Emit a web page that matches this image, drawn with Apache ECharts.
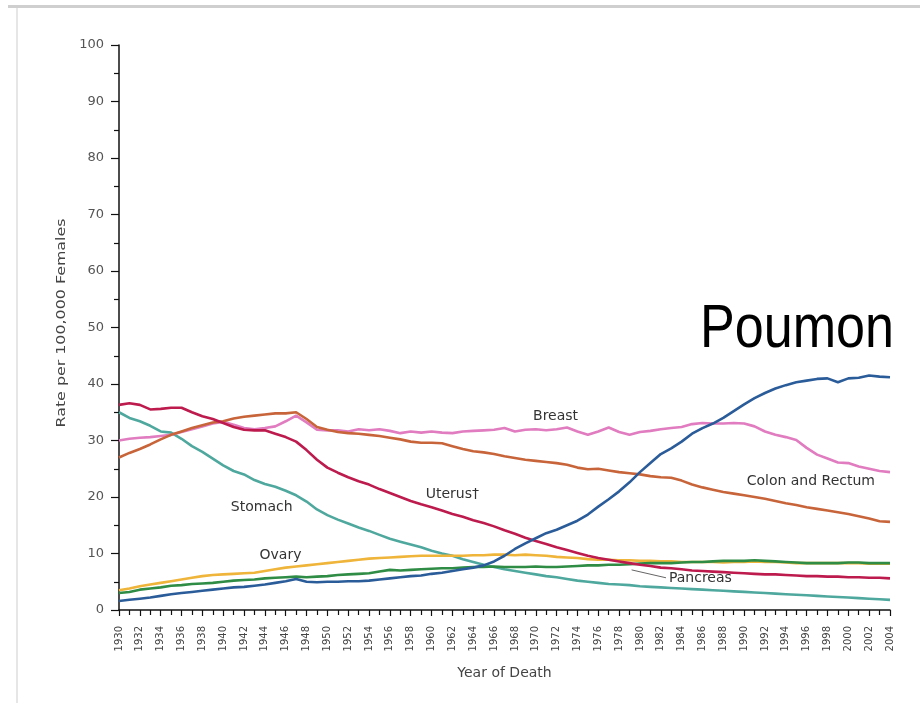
<!DOCTYPE html>
<html>
<head>
<meta charset="utf-8">
<script src="https://cdn.jsdelivr.net/npm/echarts@6/dist/echarts.min.js"></script>
<style>html,body{margin:0;padding:0;background:#fff;}#c{width:920px;height:703px;}</style>
</head>
<body>
<div id="c"></div>
<script>
const startYear = 1930;
const lung = [1.6,1.8,2.0,2.2,2.5,2.8,3.0,3.2,3.4,3.6,3.8,4.0,4.1,4.3,4.5,4.8,5.1,5.5,5.0,4.9,5.0,5.0,5.1,5.1,5.2,5.4,5.6,5.8,6.0,6.1,6.4,6.6,6.9,7.2,7.5,7.9,8.6,9.6,10.8,11.8,12.7,13.6,14.2,15.0,15.8,16.9,18.3,19.6,21.0,22.6,24.4,26.0,27.6,28.6,29.8,31.2,32.2,33.0,34.0,35.2,36.4,37.5,38.4,39.2,39.8,40.3,40.6,40.9,41.0,40.3,41.0,41.1,41.5,41.3,41.2];
const breast = [30.0,30.3,30.5,30.6,30.8,31.0,31.5,32.0,32.5,33.0,33.3,32.8,32.2,32.0,32.2,32.5,33.4,34.4,33.2,31.9,31.8,31.8,31.6,32.0,31.8,32.0,31.7,31.3,31.6,31.4,31.6,31.4,31.3,31.6,31.7,31.8,31.9,32.2,31.6,31.9,32.0,31.8,32.0,32.3,31.6,31.0,31.6,32.3,31.5,31.0,31.5,31.7,32.0,32.2,32.4,32.9,33.1,33.0,33.0,33.1,33.0,32.5,31.6,31.0,30.6,30.1,28.7,27.5,26.8,26.1,26.0,25.4,25.0,24.6,24.4];
const colonRectum = [27.0,27.8,28.5,29.3,30.2,31.0,31.6,32.2,32.7,33.2,33.4,33.9,34.2,34.4,34.6,34.8,34.8,35.0,33.8,32.4,31.9,31.5,31.3,31.2,31.0,30.8,30.5,30.2,29.8,29.6,29.6,29.5,29.0,28.5,28.1,27.9,27.6,27.2,26.9,26.6,26.4,26.2,26.0,25.7,25.2,24.9,25.0,24.7,24.4,24.2,24.0,23.7,23.5,23.4,22.9,22.2,21.7,21.3,20.9,20.6,20.3,20.0,19.7,19.3,18.9,18.6,18.2,17.9,17.6,17.3,17.0,16.6,16.2,15.7,15.6];
const uterus = [36.3,36.6,36.3,35.5,35.6,35.8,35.8,35.0,34.3,33.8,33.1,32.4,31.9,31.8,31.8,31.2,30.6,29.8,28.3,26.6,25.2,24.3,23.5,22.8,22.2,21.4,20.7,20.0,19.3,18.7,18.2,17.6,17.0,16.5,15.9,15.4,14.8,14.1,13.5,12.8,12.2,11.7,11.1,10.6,10.1,9.6,9.2,8.9,8.6,8.3,8.0,7.8,7.5,7.4,7.2,7.0,6.9,6.8,6.7,6.6,6.5,6.4,6.3,6.3,6.2,6.1,6.0,6.0,5.9,5.9,5.8,5.8,5.7,5.7,5.6];
const stomach = [35.0,34.0,33.4,32.6,31.6,31.4,30.3,29.0,28.0,26.8,25.6,24.6,24.0,23.0,22.3,21.8,21.1,20.3,19.2,17.8,16.8,16.0,15.3,14.6,14.0,13.3,12.6,12.1,11.6,11.1,10.5,10.0,9.6,9.0,8.5,8.0,7.6,7.2,6.9,6.6,6.3,6.0,5.8,5.5,5.2,5.0,4.8,4.6,4.5,4.4,4.2,4.1,4.0,3.9,3.8,3.7,3.6,3.5,3.4,3.3,3.2,3.1,3.0,2.9,2.8,2.7,2.6,2.5,2.4,2.3,2.2,2.1,2.0,1.9,1.8];
const ovary = [3.5,3.8,4.2,4.5,4.8,5.1,5.4,5.7,6.0,6.2,6.3,6.4,6.5,6.6,6.9,7.2,7.5,7.7,7.9,8.1,8.3,8.5,8.7,8.9,9.1,9.2,9.3,9.4,9.5,9.6,9.6,9.6,9.6,9.6,9.7,9.7,9.8,9.8,9.7,9.8,9.7,9.6,9.4,9.3,9.2,9.0,8.9,8.9,8.8,8.8,8.7,8.7,8.6,8.6,8.5,8.5,8.5,8.5,8.4,8.5,8.5,8.6,8.5,8.5,8.4,8.3,8.3,8.3,8.3,8.3,8.3,8.3,8.2,8.2,8.2];
const pancreas = [3.0,3.2,3.6,3.8,4.0,4.3,4.4,4.6,4.7,4.8,5.0,5.2,5.3,5.4,5.6,5.7,5.8,5.9,5.8,5.9,6.0,6.2,6.3,6.4,6.5,6.8,7.1,7.0,7.1,7.2,7.3,7.4,7.4,7.5,7.6,7.6,7.7,7.6,7.6,7.6,7.7,7.6,7.6,7.7,7.8,7.9,7.9,8.0,8.0,8.1,8.2,8.3,8.3,8.3,8.4,8.5,8.5,8.6,8.7,8.7,8.7,8.8,8.7,8.6,8.5,8.4,8.3,8.3,8.3,8.3,8.4,8.4,8.3,8.3,8.3];

const seriesNames = ['Stomach','Ovary','Pancreas','Breast','Colon and Rectum','Uterus†','Lung'];
const seriesValues = [stomach, ovary, pancreas, breast, colonRectum, uterus, lung];
const seriesColors = ['#4fa89e','#efb43a','#2f8c45','#e07cbf','#c8643a','#bd1a4e','#2b5c9a'];
// annotation label anchors in data coordinates [year, rate]
const labelAnchors = {
  'Stomach': [1943.7, 18.1],
  'Ovary': [1945.5, 9.6],
  'Pancreas': [1985.8, 5.6],
  'Breast': [1971.9, 34.3],
  'Colon and Rectum': [1996.4, 22.7],
  'Uterus†': [1962.0, 20.4]
};
const pancreasLeader = [[1979.2, 7.1], [1982.5, 5.7]];
const bigLabel = 'Poumon';
const yTitle = 'Rate per 100,000 Females';
const xTitle = 'Year of Death';

const FONT = '"DejaVu Sans", sans-serif';
const chart = echarts.init(document.getElementById('c'));

const series = seriesNames.map((name, i) => {
  const s = {
    name: name,
    type: 'line',
    symbol: 'none',
    smooth: false,
    lineStyle: { width: 2.6, color: seriesColors[i] },
    itemStyle: { color: seriesColors[i] },
    data: seriesValues[i].map((v, k) => [startYear + k, v]),
    z: 2 + i
  };
  if (labelAnchors[name]) {
    s.markPoint = {
      symbol: 'rect',
      symbolSize: [1, 1],
      itemStyle: { color: 'rgba(0,0,0,0)' },
      silent: true,
      label: { show: true, position: 'inside', color: '#333', fontSize: 14, fontFamily: FONT },
      data: [{ coord: labelAnchors[name], value: name, label: { formatter: name } }]
    };
  }
  if (name === 'Pancreas') {
    s.markLine = {
      symbol: 'none',
      silent: true,
      label: { show: false },
      lineStyle: { color: '#666', width: 1, type: 'solid' },
      data: [[{ coord: pancreasLeader[0] }, { coord: pancreasLeader[1] }]]
    };
  }
  return s;
});

chart.setOption({
  animation: false,
  backgroundColor: '#ffffff',
  grid: { left: 119, right: 30, top: 45, bottom: 93, containLabel: false },
  xAxis: {
    type: 'value',
    min: 1930, max: 2004, interval: 2,
    name: xTitle,
    nameLocation: 'middle', nameGap: 56,
    nameTextStyle: { fontSize: 14, color: '#444', fontFamily: FONT },
    axisLine: { show: true, lineStyle: { color: '#111', width: 1.5 } },
    axisTick: { show: true, length: 6, lineStyle: { color: '#111', width: 1.2 } },
    minorTick: { show: true, splitNumber: 2, length: 5, lineStyle: { color: '#111', width: 1.2 } },
    axisLabel: { rotate: 90, fontSize: 10, color: '#444', margin: 16, fontFamily: FONT, formatter: v => String(v), showMaxLabel: true, showMinLabel: true },
    splitLine: { show: false }
  },
  yAxis: {
    type: 'value',
    min: 0, max: 100, interval: 10,
    axisLine: { show: true, lineStyle: { color: '#111', width: 1.5 } },
    axisTick: { show: true, length: 8, lineStyle: { color: '#111', width: 1.2 } },
    minorTick: { show: true, splitNumber: 2, length: 5, lineStyle: { color: '#111', width: 1.2 } },
    axisLabel: { fontSize: 13, color: '#555', margin: 15, fontFamily: FONT },
    splitLine: { show: false }
  },
  series: series,
  graphic: [
    { type: 'rect', shape: { x: 8, y: 5, width: 912, height: 3 }, style: { fill: '#cfcfcf' }, silent: true },
    { type: 'rect', shape: { x: 16, y: 8, width: 2, height: 695 }, style: { fill: '#e6e6e6' }, silent: true },
    { type: 'text', x: 62, y: 323, rotation: Math.PI / 2, scaleX: 1.22, silent: true,
      style: { text: yTitle, font: '13px "DejaVu Sans", sans-serif', fill: '#444', align: 'center', verticalAlign: 'middle' } },
    { type: 'text', left: 700, top: 299, scaleX: 0.84, style: { text: bigLabel, font: '62px "Liberation Sans", Arial, sans-serif', fill: '#000' }, silent: true, z: 100 }
  ]
});
</script>
</body>
</html>
